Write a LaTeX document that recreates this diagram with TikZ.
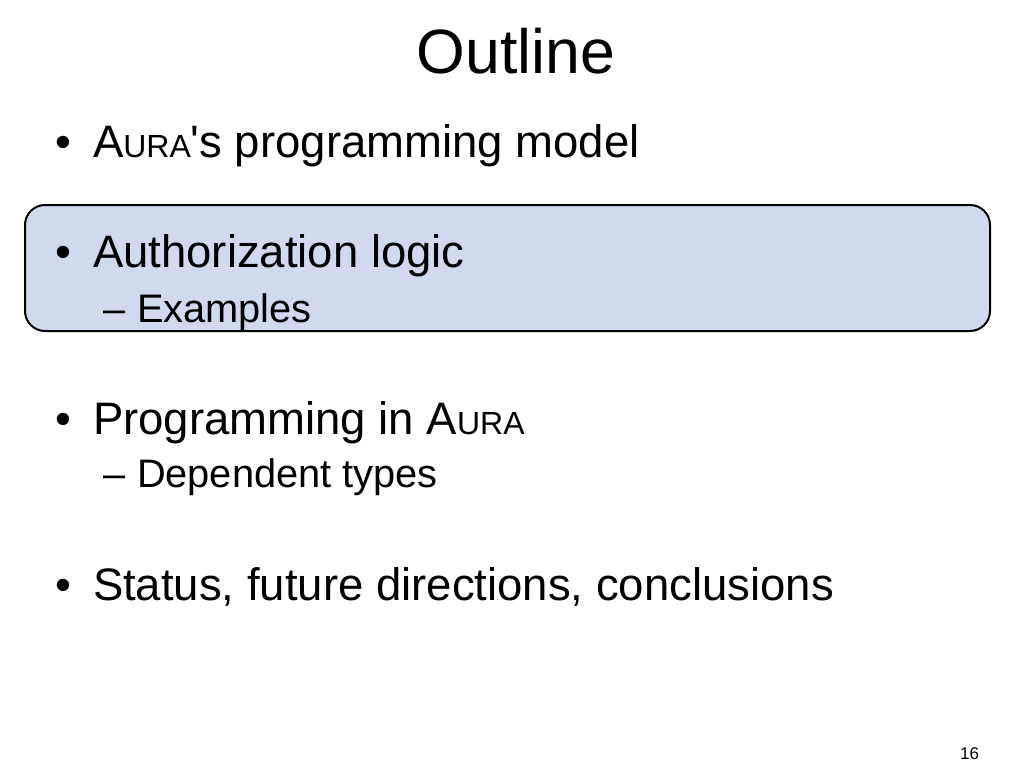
\documentclass[tikz,border=0pt]{standalone}
\usepackage{fontspec}
\setmainfont{Liberation Sans}
\newfontfamily\plainquotefont{Liberation Sans}[Ligatures=ResetAll]
\definecolor{boxblue}{HTML}{D0D9EE}
\newcommand{\smallcapsAura}[1]{A{\fontsize{#1}{#1}\selectfont URA}}
\newcommand{\straightquote}{{\plainquotefont\char39}}
\begin{document}
\begin{tikzpicture}[x=1pt,y=-1pt,
  every node/.style={inner sep=0pt, outer sep=0pt},
  titletext/.style={anchor=base, font=\fontsize{62.6}{70}\selectfont},
  lvlone/.style={anchor=base west, font=\fontsize{45.5}{50}\selectfont},
  lvltwo/.style={anchor=base west, font=\fontsize{39.8}{44}\selectfont},
  pagenum/.style={anchor=base east, font=\fontsize{17}{20}\selectfont},
  hilite/.style={fill=boxblue, draw=black, line width=2pt, rounded corners=20pt}]
\useasboundingbox (0,0) rectangle (1024,768);
\fill[white] (0,0) rectangle (1024,768);
\draw[hilite] (25,205) rectangle (990,331);
\node[titletext] (title) at (516,73) {Outline};
\node[lvlone] (b1m) at (55,157) {•};
\node[lvlone] (b1) at (93,157) {\smallcapsAura{32}\straightquote s programming model};
\node[lvlone] (b2m) at (55,267) {•};
\node[lvlone] (b2) at (93,267) {Authorization logic};
\node[lvltwo] (s2m) at (103,322) {–};
\node[lvltwo] (s2) at (137,322) {Examples};
\node[lvlone] (b3m) at (55,434) {•};
\node[lvlone] (b3) at (93,434) {Programming in \smallcapsAura{32}};
\node[lvltwo] (s3m) at (103,487) {–};
\node[lvltwo] (s3) at (137,487) {Dependent types};
\node[lvlone] (b4m) at (55,600) {•};
\node[lvlone] (b4) at (93,600) {Status, future directions, conclusions};
\node[pagenum] (pg) at (979,759) {16};
\end{tikzpicture}
\end{document}
